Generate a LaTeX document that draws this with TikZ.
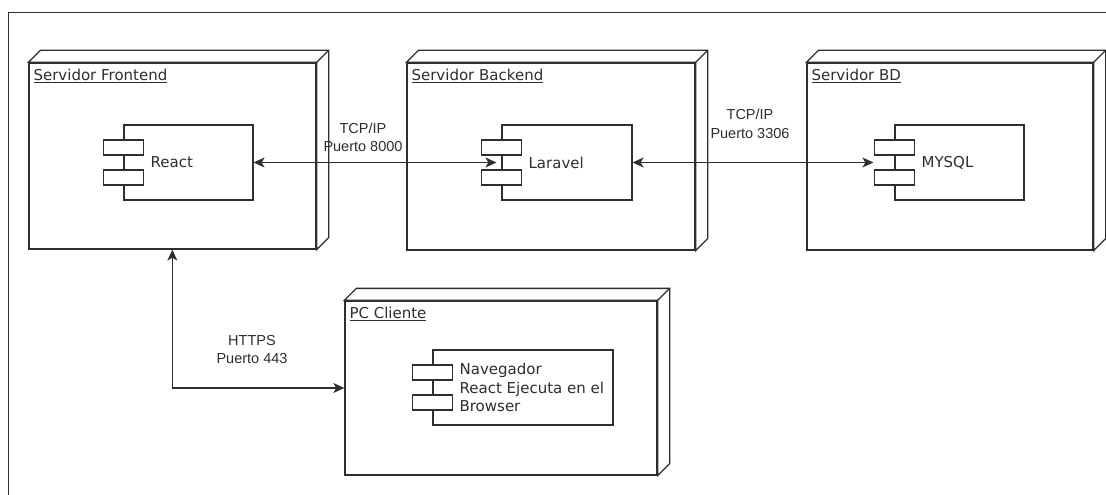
\documentclass[tikz,border=0pt]{standalone}
\usepackage{fontspec}
\setmainfont{DejaVu Sans}
\newfontfamily\edgefont{Liberation Sans}
\usetikzlibrary{arrows.meta,calc}
\definecolor{ink}{HTML}{2E2E2E}
\tikzset{
  nodebox/.style={draw=ink, line width=1.3pt, fill=white, inner sep=0pt},
  compbox/.style={draw=ink, line width=1.2pt, fill=white, inner sep=0pt, minimum height=75pt},
  portbox/.style={draw=ink, line width=1.2pt, fill=white, inner sep=0pt, minimum width=40pt, minimum height=15pt},
  nodetitle/.style={anchor=west, inner sep=0pt, font=\fontsize{15}{17}\selectfont, text=ink},
  comptext/.style={anchor=west, inner sep=0pt, align=left, font=\fontsize{15}{18.5}\selectfont, text=ink},
  edgelabel/.style={align=center, inner sep=1pt, font=\edgefont\fontsize{14.5}{18.5}\selectfont, text=ink},
  tip/.style={Stealth[length=11pt,width=10pt,inset=3pt]},
  link/.style={draw=ink, line width=1.2pt, {Stealth[length=11pt,width=10pt,inset=3pt]}-{Stealth[length=11pt,width=10pt,inset=3pt]}},
}
\newcommand{\depthbox}[1]{%
  \draw[ink, line width=1.3pt, fill=white]
    (#1.north west) -- ++(12,-12) -- ($(#1.north east)+(12,-12)$) -- ($(#1.south east)+(12,-12)$)
    -- (#1.south east) -- (#1.north east) -- cycle;
  \draw[ink, line width=1.3pt] (#1.north east) -- ++(12,-12);
}
\newcommand{\component}[4]{% name, center, width, text
  \node[compbox, minimum width=#3] (#1) at #2 {};
  \node[portbox] (#1p1) at ($(#1.west)+(0,-15)$) {};
  \node[portbox] (#1p2) at ($(#1.west)+(0,15)$) {};
  \node[comptext] (#1t) at ($(#1.west)+(27,0)$) {#4};
}
\begin{document}
\begin{tikzpicture}[x=1pt, y=-1pt]
\useasboundingbox (0,0) rectangle (1106,495);
\fill[white] (0,0) rectangle (1106,495);
\draw[ink, line width=1pt] (8,495) -- (8,13) -- (1106,13);

% deployment nodes
\node[nodebox, minimum width=287pt, minimum height=186pt] (fe) at (172.5,156) {};
\depthbox{fe}
\node[nodebox, minimum width=288pt, minimum height=187pt] (be) at (551,156.5) {};
\depthbox{be}
\node[nodebox, minimum width=286pt, minimum height=187pt] (bd) at (950,156.5) {};
\depthbox{bd}
\node[nodebox, minimum width=312pt, minimum height=174pt] (pc) at (501,388) {};
\depthbox{pc}

\node[nodetitle] (fet) at ($(fe.north west)+(5,14)$) {\underline{Servidor Frontend}};
\node[nodetitle] (bet) at ($(be.north west)+(5,14)$) {\underline{Servidor Backend}};
\node[nodetitle] (bdt) at ($(bd.north west)+(5,14)$) {\underline{Servidor BD}};
\node[nodetitle] (pct) at ($(pc.north west)+(5,14)$) {\underline{PC Cliente}};

% components
\component{react}{(188.5,162.5)}{129pt}{React}
\component{lar}{(567,162.5)}{130pt}{Laravel}
\component{my}{(959.5,162.5)}{129pt}{MYSQL}
\component{nav}{(523,387.5)}{180pt}{Navegador\\React Ejecuta en el\\Browser}

% connectors
\draw[link, shorten >=5pt] (react.east) -- (lar.west);
\draw[link, shorten >=21pt] (lar.east) -- (my.west);
\coordinate (feb) at ($(fe.south west)+(144,0)$);
\draw[link] (pc.west) -| (feb);

% labels
\node[edgelabel] (l1) at (363,137.5) {TCP/IP\\Puerto 8000};
\node[edgelabel] (l2) at (750,124) {TCP/IP\\Puerto 3306};
\node[edgelabel] (l3) at (252,349.5) {HTTPS\\Puerto 443};
\end{tikzpicture}
\end{document}
